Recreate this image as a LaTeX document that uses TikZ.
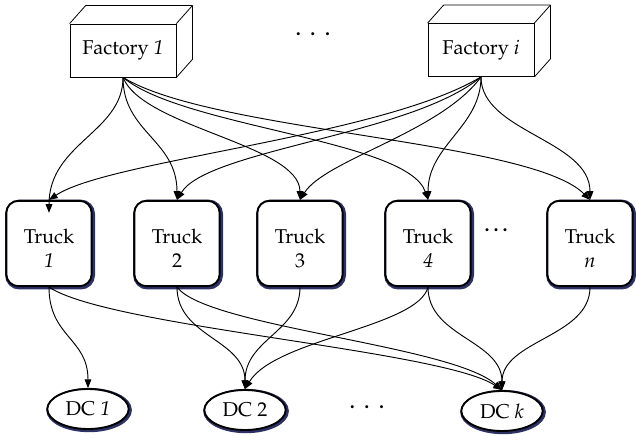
\documentclass[tikz,border=0pt]{standalone}
\usepackage[T1]{fontenc}
\usepackage{mathpazo}
\usetikzlibrary{arrows.meta,shapes.geometric}
\definecolor{rim}{RGB}{45,50,100}
% two stacked lines, set a little below the box centre
\newcommand{\stackedlabel}[2]{\raisebox{-9pt}[0pt][0pt]{\begin{tabular}{@{}c@{}}#1\\#2\end{tabular}}}

\begin{document}
\begin{tikzpicture}[x=0.75pt,y=-0.75pt,
  every node/.style={font=\fontsize{15}{18.5}\selectfont},
  factory/.style={draw, line width=0.6pt, fill=white, minimum width=79.5pt,
    minimum height=39.75pt, inner sep=0pt},
  cubeline/.style={line width=0.6pt, line join=round},
  truckbox/.style={draw=black, line width=1.4pt, fill=white, rounded corners=9pt,
    minimum width=64pt, minimum height=64pt, align=center, inner sep=0pt,
    preaction={draw=rim, line width=3.4pt, rounded corners=9pt,
      transform canvas={xshift=0.8pt,yshift=-0.8pt}}},
  dcbox/.style={ellipse, draw=black, line width=1.4pt, fill=white,
    minimum width=61pt, minimum height=30pt, inner sep=0pt,
    preaction={draw=rim, line width=3.2pt,
      transform canvas={xshift=0.8pt,yshift=-0.8pt}}},
  link/.style={-{Triangle[length=6.5pt,width=5pt]}, line width=0.7pt},
  wide dots/.style={font=\fontsize{15}{18}\selectfont\bfseries},
]
\useasboundingbox (0,0) rectangle (636,445);

% factories (front face as node, top and side faces drawn around it)
\node[factory] (f1) at (123,50.5) {Factory \textit{1}};
\node[factory] (fi) at (481,50) {Factory \textit{i}};
\foreach \f in {f1,fi}{
  \draw[cubeline] (\f.north west) -- +(16,-18)
    -- ([shift={(16,-18)}]\f.north east)
    -- ([shift={(16,-18)}]\f.south east) -- (\f.south east);
  \draw[cubeline] (\f.north east) -- +(16,-18);
}
\node[wide dots] (topdots) at (313,34) {.\hspace{7.3pt}.\hspace{7.3pt}.};

% trucks
\node[truckbox] (t1) at (49,243.5)  {\stackedlabel{Truck}{\textit{1}}};
\node[truckbox] (t2) at (177,243.5) {\stackedlabel{Truck}{2}};
\node[truckbox] (t3) at (300,243.5) {\stackedlabel{Truck}{3}};
\node[truckbox] (t4) at (428,243.5) {\stackedlabel{Truck}{\textit{4}}};
\node[truckbox] (tn) at (590,243.5) {\stackedlabel{Truck}{\textit{n}}};
\node[wide dots] (truckdots) at (496,230) {.\hspace{3pt}.\hspace{3pt}.};

% distribution centres
\node[dcbox] (d1) at (88,409)  {DC \textit{1}};
\node[dcbox] (d2) at (245,410) {DC 2};
\node[dcbox] (dk) at (502,411) {DC \textit{k}};
\node[wide dots] (dcdots) at (367,407) {.\hspace{7.3pt}.\hspace{7.3pt}.};

% factory 1 to every truck
\draw[link] (f1.south) .. controls +(0,55) and +(0,-70) .. ([yshift=-9.75pt]t1.north);
\draw[link] (f1.south) .. controls +(0,55) and +(0,-60) .. (t2.north);
\draw[link] (f1.south) .. controls +(20,50) and +(0,-55) .. (t3.north);
\draw[link] (f1.south) .. controls +(60,50) and +(-20,-60) .. (t4.north);
\draw[link] (f1.south) .. controls +(90,55) and +(-60,-60) .. (tn.north);

% factory i to every truck
\draw[link] (fi.south) .. controls +(-100,60) and +(60,-40) .. (t1.north);
\draw[link] (fi.south) .. controls +(-70,58) and +(30,-50) .. (t2.north);
\draw[link] (fi.south) .. controls +(-40,55) and +(25,-40) .. (t3.north);
\draw[link] (fi.south) .. controls +(0,50) and +(0,-55) .. (t4.north);
\draw[link] (fi.south) .. controls +(0,55) and +(0,-60) .. (tn.north);

% trucks to distribution centres
\draw[link] (t1.south) .. controls +(0,50) and +(0,-50) .. (d1.north);
\draw[link] (t1.south) .. controls +(60,40) and +(-60,-40) .. (dk.north);
\draw[link] (t2.south) .. controls +(0,50) and +(0,-50) .. (d2.north);
\draw[link] (t2.south) .. controls +(30,40) and +(-50,-45) .. (dk.north);
\draw[link] (t3.south) .. controls +(0,45) and +(0,-50) .. (d2.north);
\draw[link] (t4.south) .. controls +(-10,40) and +(30,-50) .. (d2.north);
\draw[link] (t4.south) .. controls +(0,50) and +(0,-50) .. (dk.north);
\draw[link] (tn.south) .. controls +(0,50) and +(0,-50) .. (dk.north);
\end{tikzpicture}
\end{document}
